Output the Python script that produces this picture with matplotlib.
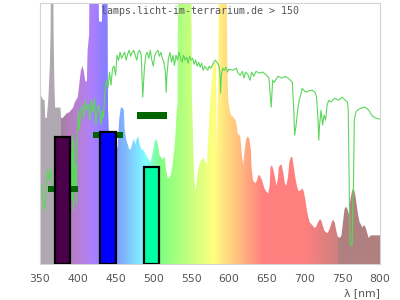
import numpy as np
import matplotlib
matplotlib.use('Agg')
import matplotlib.pyplot as plt
from matplotlib.colors import to_rgb

# lamp spectrum (relative, axis top = 100, peaks above are clipped)
lamp_nm = [350, 351, 354, 356, 357, 359, 361, 363, 364, 365, 367, 368, 369, 370, 372, 375, 377, 378, 380, 383,
           386, 388, 391, 394, 396, 398, 400, 402, 404, 406, 408, 410, 412, 413, 415, 416, 427, 428, 432, 433,
           439, 440, 442, 449, 451, 453, 455, 457, 459, 461, 462, 464, 466, 468, 470, 472, 474, 476, 478, 480,
           482, 484, 486, 488, 490, 492, 494, 496, 498, 500, 502, 504, 506, 508, 510, 512, 514, 515, 517, 519,
           521, 523, 525, 527, 529, 531, 532, 533, 541, 542, 543, 550, 551, 553, 554, 556, 559, 562, 566, 568,
           571, 574, 576, 579, 582, 583, 584, 586, 587, 596, 598, 599, 601, 603, 607, 609, 611, 612, 613, 615,
           616, 617, 619, 621, 623, 625, 627, 629, 630, 632, 635, 637, 639, 641, 644, 647, 649, 652, 654, 655,
           657, 659, 661, 663, 665, 666, 668, 670, 672, 674, 676, 678, 680, 682, 684, 686, 688, 690, 692, 694,
           697, 699, 701, 703, 705, 707, 710, 713, 715, 718, 720, 722, 724, 726, 729, 731, 734, 736, 738, 740,
           742, 744, 747, 749, 751, 753, 755, 757, 759, 761, 763, 765, 767, 769, 771, 773, 775, 777, 779, 781,
           783, 785, 788, 791, 794, 797, 800]
lamp_val = [65, 65, 63, 63, 56, 56, 63, 76, 88, 130, 130, 88, 70, 60, 60, 60, 60, 56, 56, 57,
            58, 58, 59, 60, 62, 63, 64, 69, 74, 76, 74, 70, 70, 82, 88, 130, 130, 93, 93, 130,
            130, 60, 44, 44, 44, 45, 56, 60, 60, 59, 52, 48, 46, 44, 44, 46, 48, 46, 48, 49,
            46, 44, 44, 43, 42, 41, 40, 39, 41, 44, 47, 48, 46, 42, 41, 40, 41, 41, 36, 33,
            33, 34, 37, 42, 48, 59, 61, 130, 130, 93, 130, 130, 65, 44, 33, 28, 36, 39, 41, 40,
            38, 56, 65, 77, 77, 77, 42, 72, 130, 130, 75, 63, 59, 57, 56, 55, 52, 49, 50, 49,
            46, 42, 38, 44, 48, 49, 48, 44, 37, 32, 31, 32, 34, 34, 32, 29, 28, 27, 30, 37,
            38, 36, 33, 30, 33, 37, 38, 38, 35, 31, 30, 33, 39, 41, 41, 37, 33, 30, 28, 28,
            29, 28, 25, 21, 18, 16, 15, 14, 14, 16, 17, 17, 15, 13, 12, 12, 14, 16, 17, 16,
            13, 10.5, 10, 11, 16, 21, 22, 21, 19, 25, 28, 29, 27, 23, 19, 16, 15, 14, 15, 14,
            12, 10, 11, 11, 11, 11, 11]

# sunlight reference curve
sun_nm = [350, 352, 354, 356, 358, 360, 362, 364, 366, 368, 372, 376, 380, 384, 388, 391, 392, 393, 394, 395,
          396, 397, 398, 399, 400, 401, 402, 404, 406, 408, 410, 412, 414, 416, 418, 420, 422, 424, 426, 428,
          430, 431, 432, 434, 436, 438, 440, 442, 444, 446, 448, 450, 452, 454, 456, 458, 460, 462, 464, 466,
          468, 470, 472, 474, 476, 478, 480, 482, 484, 486, 488, 490, 492, 494, 496, 498, 500, 502, 504, 506,
          508, 510, 512, 514, 516, 517, 518, 520, 522, 524, 526, 528, 530, 532, 534, 536, 538, 540, 542, 544,
          546, 548, 550, 552, 554, 556, 558, 560, 562, 564, 566, 568, 570, 572, 574, 576, 578, 580, 582, 584,
          586, 588, 589, 590, 592, 594, 596, 598, 600, 605, 610, 612, 615, 618, 620, 622, 625, 628, 630, 633,
          636, 640, 645, 650, 653, 656, 658, 660, 665, 670, 675, 680, 684, 686, 687, 689, 691, 693, 695, 697,
          699, 702, 705, 710, 714, 716, 718, 719, 720, 722, 724, 726, 728, 730, 732, 735, 740, 745, 750, 754,
          757, 758, 759.5, 760.5, 763, 765, 766, 768, 770, 775, 780, 785, 790, 795, 800]
sun_val = [27.6, 30.3, 24.5, 20.7, 26.4, 36.0, 32.2, 36.8, 30.3, 28.4, 34.1, 30.3, 36.0, 28.4, 39.8, 43.7, 24.5, 49.4, 20.7, 47.5,
           28.4, 37.9, 22.6, 47.5, 53.3, 59.0, 51.3, 58.2, 60.9, 55.9, 62.8, 59.0, 61.3, 55.2, 62.8, 58.2, 63.6, 53.3, 59.8, 60.9,
           55.9, 54.0, 59.0, 55.9, 66.7, 70.5, 67.4, 73.6, 68.6, 75.1, 75.9, 72.4, 80.1, 78.2, 81.2, 78.9, 80.1, 81.2, 78.2, 80.5,
           82.0, 79.7, 81.2, 82.0, 80.1, 78.2, 81.2, 82.0, 80.1, 64.0, 74.3, 80.1, 81.2, 78.9, 82.0, 78.2, 75.9, 80.1, 81.2, 82.0,
           79.7, 81.2, 78.9, 77.4, 73.6, 65.9, 72.4, 78.9, 81.2, 77.4, 80.1, 76.2, 80.1, 78.2, 81.2, 78.9, 77.4, 80.1, 78.2, 79.3,
           77.0, 79.7, 78.2, 78.9, 76.6, 78.2, 75.9, 77.4, 75.5, 77.0, 74.3, 75.9, 75.1, 74.3, 75.9, 75.1, 76.2, 77.4, 78.2, 77.4,
           76.6, 74.3, 65.5, 72.4, 75.1, 74.3, 75.5, 73.6, 74.7, 74.3, 75.1, 73.2, 72.4, 73.9, 71.3, 73.6, 72.8, 70.5, 73.6, 72.0,
           73.9, 73.2, 73.6, 72.4, 71.3, 60.2, 70.5, 69.7, 72.0, 71.3, 72.0, 70.9, 69.7, 58.2, 49.4, 53.3, 59.0, 62.8, 64.8, 67.4,
           66.7, 65.9, 66.3, 66.7, 65.9, 64.0, 55.2, 47.5, 53.3, 59.0, 53.3, 57.1, 55.2, 60.9, 62.8, 62.1, 63.6, 62.8, 64.0, 62.8,
           62.1, 59.0, 24.5, 7.3, 7.3, 32.2, 55.2, 58.2, 59.0, 59.8, 60.2, 59.0, 56.7, 55.9, 55.6]

bar_nm = [380, 440, 498]
bar_val = [48.7, 50.6, 37.2]
bar_colors = ['#4b004b', '#0000ff', '#00ffa6']
ref_val = [28.7, 49.6, 57.0]


def spectral_color(nm):
    if nm < 378:
        return to_rgb('#b0a8b0')
    if nm >= 745:
        return to_rgb('#b08080')
    if nm < 440:
        r, g, b = (440 - nm) / 60, 0, 1
    elif nm < 490:
        r, g, b = 0, (nm - 440) / 50, 1
    elif nm < 510:
        r, g, b = 0, 1, (510 - nm) / 20
    elif nm < 580:
        r, g, b = (nm - 510) / 70, 1, 0
    elif nm < 645:
        r, g, b = 1, (645 - nm) / 65, 0
    else:
        r, g, b = 1, 0, 0
    f = 1.0
    if nm < 420:
        f = 0.3 + 0.7 * (nm - 380) / 40
    elif nm > 700:
        f = 0.3 + 0.7 * (780 - nm) / 80
    return tuple(0.5 + 0.5 * c * f for c in (r, g, b))


fig, ax = plt.subplots(figsize=(4, 3), dpi=100)
fig.subplots_adjust(left=0.1, right=0.95, bottom=0.12, top=0.989)

poly = ax.fill_between(lamp_nm, lamp_val, facecolor='none', lw=0)
nm_grid = np.arange(350, 801)
grad = np.array([[spectral_color(n) for n in nm_grid]])
im = ax.imshow(grad, extent=[349.5, 800.5, 0, 140], aspect='auto', origin='lower',
               interpolation='nearest', zorder=1)
im.set_clip_path(poly.get_paths()[0], transform=ax.transData)

ax.plot(sun_nm, sun_val, color='#5cd65c', lw=0.8, zorder=2)
ax.bar(bar_nm, [2.4] * 3, width=40, bottom=[v - 1.2 for v in ref_val], color='#006400', zorder=3)
ax.bar(bar_nm, bar_val, width=20, color=bar_colors, edgecolor='black', linewidth=1.6, zorder=4)

ax.set_xlim(350, 800)
ax.set_ylim(0, 100)
ax.set_xticks(range(350, 801, 50))
ax.set_yticks([])
ax.tick_params(axis='x', length=0, pad=7, labelsize=7.8, labelcolor='#555555')
for s in ax.spines.values():
    s.set_color('#d3d3d3')
ax.set_xlabel('λ [nm]', loc='right', fontsize=7.8, color='#555555', labelpad=3)

fig.text(0.5, 0.962, 'lamps.licht-im-terrarium.de > 150', ha='center', va='center',
         family='DejaVu Sans Mono', fontsize=7.2, color='#555555', zorder=10)

fig.savefig('out.png')
